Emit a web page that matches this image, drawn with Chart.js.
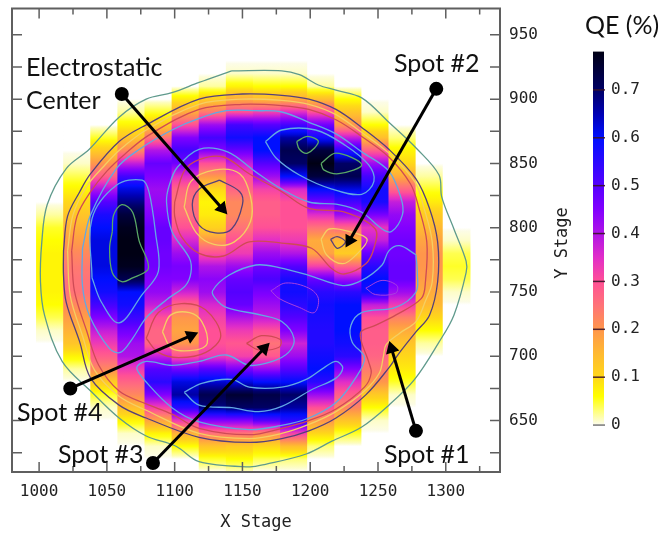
<!DOCTYPE html>
<html>
<head>
<meta charset="utf-8">
<title>QE map</title>
<script src="https://cdn.jsdelivr.net/npm/chart.js@4"></script>
<style>
  html, body { margin: 0; padding: 0; background: #fff; }
  canvas { display: block; }
</style>
</head>
<body>
<canvas id="myChart" width="660" height="534"></canvas>
<script>
// Column centres of the QE map (X stage) and the rows read along each column (Y stage)
var columnX = [1008, 1028, 1048, 1068, 1088, 1108, 1128, 1148, 1168, 1188, 1208, 1228, 1248, 1268, 1288, 1308];
var rowY = [930, 920, 910, 900, 890, 880, 870, 860, 850, 840, 830, 820, 810, 800, 790, 780, 770, 760, 750, 740, 730, 720, 710, 700, 690, 680, 670, 660, 650, 640, 630, 620, 610];

// QE values, one list per column, same order as rowY
var qe1008 = [0,0,0,0,0,0,0,0,0,0,0, 0,.02,.05,.06,.07,.07,.07,.07,.06,.04,.01, 0,0,0,0,0,0,0,0,0,0,0];
var qe1028 = [0,0,0,0,0,0,0,0, .01,.04,.07,.1,.13,.16,.19,.22,.24,.25,.25,.22,.19,.16,.13,.07,.02, 0,0,0,0,0,0,0,0];
var qe1048 = [0,0,0,0,0,0, .05,.12,.2,.28,.4,.5,.57,.6,.62,.62,.62,.6,.58,.52,.45,.38,.33,.28,.22,.12,.05,.01, 0,0,0,0,0];
var qe1068 = [0,0,0,0, .02,.07,.13,.22,.38,.52,.62,.68,.74,.77,.78,.78,.77,.72,.6,.58,.53,.47,.42,.4,.33,.27,.22,.14,.07,.01, 0,0,0];
var qe1088 = [0,0,0,0, .05,.12,.25,.4,.48,.45,.42,.43,.45,.48,.48,.47,.47,.45,.43,.38,.3,.27,.27,.38,.5,.55,.45,.32,.18,.07,.01, 0,0];
var qe1108 = [0,0,0, .08,.17,.3,.45,.52,.47,.35,.27,.25,.26,.3,.36,.42,.46,.45,.37,.27,.2,.18,.2,.3,.47,.62,.66,.55,.33,.16,.06, 0,0];
var qe1128 = [0,0, .02,.12,.24,.42,.52,.45,.3,.2,.1,.07,.08,.11,.2,.3,.4,.44,.42,.36,.32,.3,.3,.33,.5,.63,.72,.68,.45,.25,.13,.05, 0];
var qe1148 = [0, .01,.07,.17,.3,.52,.58,.48,.38,.3,.27,.22,.22,.25,.3,.33,.42,.48,.5,.48,.4,.33,.29,.32,.46,.62,.75,.7,.45,.25,.12,.06,.01];
var qe1168 = [0, .01,.06,.15,.32,.5,.6,.6,.5,.42,.32,.28,.28,.3,.35,.42,.47,.51,.46,.42,.38,.3,.25,.29,.43,.6,.73,.7,.5,.22,.1,.04, 0];
var qe1188 = [0, .01,.06,.17,.35,.52,.66,.72,.7,.6,.36,.3,.3,.3,.33,.4,.5,.57,.58,.55,.5,.45,.37,.42,.5,.6,.7,.66,.55,.32,.14,.03, 0];
var qe1208 = [0,0, .02,.14,.3,.47,.58,.74,.78,.74,.6,.47,.35,.25,.17,.18,.32,.48,.55,.58,.57,.56,.56,.58,.6,.55,.42,.3,.2,.1,.03, 0,0];
var qe1228 = [0,0,0, .06,.13,.2,.38,.55,.7,.72,.62,.52,.42,.27,.15,.12,.27,.42,.55,.6,.6,.6,.58,.55,.45,.35,.28,.22,.13,.05, 0,0,0];
var qe1248 = [0,0,0,0, .01,.06,.14,.28,.42,.52,.58,.57,.46,.34,.38,.48,.55,.6,.58,.38,.3,.28,.28,.27,.24,.2,.12,.06,.01, 0,0,0,0];
var qe1268 = [0,0,0,0,0,0, .03,.07,.1,.17,.27,.38,.43,.45,.47,.47,.48,.48,.42,.33,.23,.17,.13,.1,.08,.05,.01, 0,0,0,0,0,0];
var qe1288 = [0,0,0,0,0,0,0,0,0, .02,.05,.08,.12,.15,.18,.2,.2,.19,.17,.15,.1,.06,.02, 0,0,0,0,0,0,0,0,0,0];
var qe1308 = [0,0,0,0,0,0,0,0,0,0,0,0,0,0, .01,.04,.05,.04,.01, 0,0,0,0,0,0,0,0,0,0,0,0,0,0];
var qeColumns = [qe1008, qe1028, qe1048, qe1068, qe1088, qe1108, qe1128, qe1148, qe1168, qe1188, qe1208, qe1228, qe1248, qe1268, qe1288, qe1308];

// Contours, [x stage, y stage]
var edgeLine = [[1142,922],[1179,922],[1192,919],[1206,911],[1219,907],[1238,901],[1258,882],[1279,861],[1295,841],[1297,824],[1306,799],[1315,774],[1315,765],[1306,732],[1295,711],[1277,682],[1258,662],[1238,645],[1216,634],[1197,624],[1167,616],[1155,614],[1118,618],[1101,630],[1079,638],[1059,652],[1039,672],[1017,696],[1004,732],[1001,758],[1002,789],[1006,818],[1020,846],[1037,861],[1059,886],[1079,900],[1098,905],[1118,913]];
var ring01 = [[1018,782],[1021,809],[1030,828],[1038,842],[1059,867],[1079,880],[1118,900],[1150,904],[1179,903],[1199,900],[1219,892],[1238,878],[1258,861],[1278,838],[1288,815],[1294,789],[1294,758],[1288,732],[1278,719],[1266,703],[1258,691],[1241,670],[1219,652],[1199,642],[1179,636],[1155,633],[1118,637],[1079,652],[1059,662],[1038,683],[1030,711],[1020,742],[1018,763]];
var ring02 = [[1021,782],[1025,810],[1035,832],[1047,847],[1060,861],[1079,876],[1118,896],[1150,900],[1179,899],[1199,896],[1219,888],[1238,874],[1258,858],[1277,836],[1284,815],[1290,789],[1290,758],[1285,743],[1278,727],[1266,718],[1256,709],[1254,700],[1251,687],[1240,673],[1219,657],[1199,647],[1179,640],[1155,636],[1118,640],[1079,658],[1059,669],[1041,689],[1032,716],[1023,747]];
var ring03 = [[1024,782],[1028,809],[1038,828],[1050,844],[1063,857],[1081,872],[1118,892],[1150,896],[1179,895],[1199,892],[1219,884],[1238,871],[1258,855],[1274,834],[1280,816],[1286,789],[1285,758],[1282,745],[1263,732],[1248,724],[1237,718],[1243,696],[1245,687],[1240,676],[1219,659],[1199,650],[1179,644],[1155,639],[1118,644],[1098,655],[1079,663],[1059,673],[1044,693],[1035,720],[1026,751]];
var upperBlue = [[1032,784],[1038,810],[1057,846],[1074,861],[1098,876],[1118,885],[1138,891],[1160,891],[1179,890],[1199,882],[1219,873],[1238,859],[1258,844],[1267,823],[1268,810],[1260,797],[1253,799],[1238,812],[1221,818],[1199,820],[1179,830],[1159,844],[1139,859],[1118,861],[1102,847],[1096,833],[1094,820],[1098,797],[1111,776],[1112,765],[1108,755],[1094,744],[1079,730],[1069,714],[1060,703],[1052,706],[1037,732],[1032,755]];
var lowerBlue = [[1278,779],[1279,765],[1278,750],[1263,738],[1238,734],[1230,724],[1231,711],[1240,699],[1234,684],[1219,664],[1199,652],[1178,646],[1155,643],[1118,649],[1098,660],[1079,680],[1072,691],[1079,696],[1098,693],[1118,696],[1138,701],[1155,693],[1172,696],[1184,703],[1188,714],[1179,727],[1164,732],[1138,738],[1130,745],[1128,751],[1140,763],[1160,771],[1177,769],[1199,763],[1224,755],[1238,759],[1253,771],[1258,782],[1266,786]];
var leftBlue = [[1039,761],[1039,807],[1057,833],[1076,837],[1081,828],[1086,795],[1088,766],[1076,748],[1059,726],[1046,742]];
var topBlue = [[1167,867],[1179,876],[1204,876],[1226,864],[1243,849],[1247,836],[1238,826],[1216,830],[1192,841],[1175,854]];
var bottomBlue = [[1107,672],[1120,679],[1142,682],[1155,676],[1179,676],[1197,682],[1210,691],[1219,696],[1224,691],[1219,683],[1201,674],[1179,661],[1162,657],[1142,660],[1118,662]];
var midViolet = [[1171,751],[1182,757],[1199,753],[1206,745],[1203,734],[1192,738],[1177,745]];
var rightViolet = [[1241,753],[1253,759],[1264,755],[1263,749],[1248,748]];
var leftPeak = [[1054,797],[1055,810],[1061,818],[1069,812],[1074,789],[1080,774],[1080,767],[1069,761],[1061,758],[1054,765],[1052,784]];
var topPeakA = [[1190,867],[1198,871],[1206,867],[1198,858],[1192,861]];
var topPeakB = [[1208,850],[1219,858],[1238,849],[1221,842],[1210,845]];
var centerDark = [[1133,837],[1148,828],[1150,818],[1142,799],[1130,796],[1118,802],[1113,818],[1118,830]];
var centerYellow = [[1107,816],[1112,836],[1130,845],[1148,842],[1156,824],[1156,805],[1144,789],[1129,787],[1116,796]];
var centerRed = [[1100,820],[1107,844],[1118,853],[1136,855],[1155,842],[1179,828],[1199,815],[1226,812],[1248,799],[1247,784],[1241,772],[1225,764],[1216,768],[1201,784],[1179,788],[1155,789],[1136,778],[1118,780],[1105,793],[1100,809]];
var spot2Dark = [[1215,791],[1220,793],[1226,789],[1220,784]];
var spot2Yellow = [[1208,791],[1214,799],[1229,797],[1242,791],[1234,779],[1224,772],[1212,779]];
var spot3Red = [[1153,710],[1164,716],[1178,713],[1177,707],[1162,705]];
var spot4Yellow = [[1091,719],[1097,732],[1111,734],[1120,727],[1124,710],[1116,705],[1098,706]];
var spot4Red = [[1079,714],[1088,734],[1105,741],[1123,736],[1134,716],[1123,703],[1103,699],[1088,703]];

// Callout arrows, from the dot to the tip
var arrowCenter = [[1061,904],[1135,815]];
var arrowSpot2 = [[1293,908],[1229,790]];
var arrowSpot4 = [[1023,675],[1112,716]];
var arrowSpot3 = [[1084,617],[1166,706]];
var arrowSpot1 = [[1278,642],[1260,706]];

var xTickValues = [1000, 1050, 1100, 1150, 1200, 1250, 1300];
var yTickValues = [650, 700, 750, 800, 850, 900, 950];
var qeTicks = [0, 0.1, 0.2, 0.3, 0.4, 0.5, 0.6, 0.7];

// colour map of the QE bar
var qeStops = [
    [0, 252, 252, 240], [0.03, 255, 255, 120], [0.06, 255, 255, 0], [0.1, 255, 215, 25],
    [0.15, 255, 185, 50], [0.2, 255, 150, 75], [0.25, 255, 115, 120], [0.3, 255, 80, 150],
    [0.35, 225, 45, 200], [0.4, 175, 20, 230], [0.45, 130, 0, 255], [0.5, 85, 0, 255],
    [0.6, 0, 15, 255], [0.65, 0, 0, 180], [0.7, 0, 0, 100], [0.78, 0, 0, 20]
];
function qeColor(v) {
    if (v <= 0) return 'rgb(255,255,255)';
    for (var i = 1; i < qeStops.length; i++) {
        if (v <= qeStops[i][0]) {
            var a = qeStops[i - 1], b = qeStops[i], t = (v - a[0]) / (b[0] - a[0]);
            return 'rgb(' + Math.round(a[1] + (b[1] - a[1]) * t) + ',' + Math.round(a[2] + (b[2] - a[2]) * t) + ',' + Math.round(a[3] + (b[3] - a[3]) * t) + ')';
        }
    }
    return 'rgb(0,0,15)';
}

function columnGradient(context) {
    var chart = context.chart;
    if (!chart.chartArea || context.dataIndex === undefined) return '#fff';
    var y = chart.scales.y, vals = qeColumns[context.dataIndex];
    var top = y.getPixelForValue(rowY[0]), bottom = y.getPixelForValue(rowY[rowY.length - 1]);
    var g = chart.ctx.createLinearGradient(0, top, 0, bottom);
    var n = rowY.length - 1;
    for (var i = 0; i < n; i++) {
        for (var k = 0; k < 4; k++) {
            g.addColorStop((i + k / 4) / n, qeColor(vals[i] + (vals[i + 1] - vals[i]) * k / 4));
        }
    }
    g.addColorStop(1, qeColor(vals[n]));
    return g;
}

function toPoints(list, closed) {
    var pts = list.map(function (p) { return { x: p[0], y: p[1] }; });
    if (closed) pts.push(pts[0]);
    return pts;
}
function contour(list, color, width) {
    return {
        type: 'scatter', data: toPoints(list, true), showLine: true, borderColor: color,
        borderWidth: width || 1.3, tension: 0.35, pointRadius: 0, order: 2
    };
}
function arrow(list) {
    return {
        type: 'scatter', data: toPoints(list, false), showLine: true, borderColor: '#000', borderWidth: 3,
        backgroundColor: '#000', pointBackgroundColor: '#000', pointBorderColor: '#000',
        pointStyle: ['circle', 'triangle'], pointRadius: [5.5, 5], order: 1,
        pointRotation: function (ctx) {
            var c = ctx.chart;
            var dx = c.scales.x.getPixelForValue(list[1][0]) - c.scales.x.getPixelForValue(list[0][0]);
            var dy = c.scales.y.getPixelForValue(list[1][1]) - c.scales.y.getPixelForValue(list[0][1]);
            return Math.atan2(dx, -dy) * 180 / Math.PI;
        }
    };
}

var monoFont = '"DejaVu Sans Mono", monospace';
var frameColor = '#5f5f5f';
var tealLine = '#5f9a8c', darkLine = '#55407a', yellowLine = '#f5cf62', redLine = '#cf4a55', blueLine = '#62a8e4', greenLine = '#5aa866';

// frame, inward ticks, colour bar and text labels
var decorations = {
    id: 'decorations',
    afterDraw: function (chart) {
        var ctx = chart.ctx, a = chart.chartArea, x = chart.scales.x, y = chart.scales.y, q = chart.scales.qe;
        ctx.save();
        ctx.strokeStyle = frameColor;
        ctx.lineWidth = 1.5;
        ctx.beginPath();
        var v, p, len;
        for (v = 1000; v <= 1325; v += 25) {
            p = x.getPixelForValue(v);
            len = v % 50 === 0 ? 10 : 6;
            ctx.moveTo(p, a.top); ctx.lineTo(p, a.top + len);
            ctx.moveTo(p, a.bottom); ctx.lineTo(p, a.bottom - len);
        }
        for (v = 625; v <= 950; v += 25) {
            p = y.getPixelForValue(v);
            ctx.moveTo(a.left, p); ctx.lineTo(a.left + 10, p);
            ctx.moveTo(a.right, p); ctx.lineTo(a.right - 10, p);
        }
        ctx.stroke();
        ctx.lineWidth = 2;
        ctx.strokeRect(a.left, a.top, a.right - a.left, a.bottom - a.top);

        // colour bar
        var barLeft = 593, barWidth = 11;
        var barTop = q.getPixelForValue(0.78), barBottom = q.getPixelForValue(0);
        var g = ctx.createLinearGradient(0, barBottom, 0, barTop);
        qeStops.forEach(function (s) {
            g.addColorStop(s[0] / 0.78, qeColor(s[0] === 0 ? 0.0001 : s[0]));
        });
        ctx.fillStyle = g;
        ctx.fillRect(barLeft, barTop, barWidth, barBottom - barTop);
        ctx.textAlign = 'left';
        ctx.textBaseline = 'middle';
        ctx.font = '16px ' + monoFont;
        qeTicks.forEach(function (t) {
            p = q.getPixelForValue(t);
            ctx.strokeStyle = t === 0 ? '#777' : 'rgba(60,20,40,0.9)';
            ctx.lineWidth = 1.5;
            ctx.beginPath();
            ctx.moveTo(barLeft, p); ctx.lineTo(barLeft + barWidth + 1, p);
            ctx.stroke();
            ctx.fillStyle = '#222';
            ctx.fillText(t === 0 ? '0' : t.toFixed(1), 611, p);
        });

        // axis title on the right reads upwards
        ctx.save();
        ctx.translate(563, 243);
        ctx.rotate(-Math.PI / 2);
        ctx.textAlign = 'center';
        ctx.font = '17px ' + monoFont;
        ctx.fillStyle = '#222';
        ctx.fillText('Y Stage', 0, 0);
        ctx.restore();

        ctx.fillStyle = '#111';
        ctx.font = '25px Lato';
        ctx.fillText('QE (%)', 585, 26);
        ctx.fillText('Electrostatic', 26, 68);
        ctx.fillText('Center', 26, 101);
        ctx.fillText('Spot #2', 394, 64);
        ctx.fillText('Spot #4', 17, 413);
        ctx.fillText('Spot #3', 58, 455);
        ctx.fillText('Spot #1', 384, 455);
        ctx.restore();
    }
};

var ctx1 = document.getElementById('myChart').getContext('2d');
var myChart = new Chart(ctx1, {
    type: 'scatter',
    data: {
        datasets: [
            {
                type: 'bar',
                data: columnX.map(function (cx) { return { x: cx, y: [rowY[rowY.length - 1], rowY[0]] }; }),
                backgroundColor: columnGradient,
                borderWidth: 0,
                barPercentage: 1,
                categoryPercentage: 1,
                order: 3
            },
            contour(edgeLine, tealLine),
            contour(ring01, darkLine),
            contour(ring02, yellowLine),
            contour(ring03, redLine),
            contour(upperBlue, blueLine),
            contour(lowerBlue, blueLine),
            contour(leftBlue, blueLine),
            contour(topBlue, blueLine),
            contour(bottomBlue, blueLine),
            contour(midViolet, '#a83fe0', 1),
            contour(rightViolet, '#a83fe0', 1),
            contour(leftPeak, greenLine),
            contour(topPeakA, greenLine),
            contour(topPeakB, greenLine),
            contour(centerDark, darkLine),
            contour(centerYellow, yellowLine),
            contour(centerRed, redLine),
            contour(spot2Dark, darkLine),
            contour(spot2Yellow, yellowLine),
            contour(spot3Red, redLine),
            contour(spot4Yellow, yellowLine),
            contour(spot4Red, redLine),
            arrow(arrowCenter),
            arrow(arrowSpot2),
            arrow(arrowSpot4),
            arrow(arrowSpot3),
            arrow(arrowSpot1)
        ]
    },
    options: {
        responsive: false,
        animation: false,
        layout: { padding: { left: 12, top: 7.5, right: 0, bottom: 0 } },
        plugins: { legend: { display: false }, tooltip: { enabled: false } },
        scales: {
            x: {
                type: 'linear', min: 980, max: 1340, offset: false,
                grid: { display: false, drawTicks: false }, border: { display: false },
                afterFit: function (s) { s.height = 62; s.paddingLeft = 0; s.paddingRight = 0; },
                afterBuildTicks: function (s) { s.ticks = xTickValues.map(function (v) { return { value: v }; }); },
                ticks: {
                    padding: 10, color: '#222', font: { family: monoFont, size: 16 }, maxRotation: 0, autoSkip: false,
                    callback: function (v) { return String(v); }
                },
                title: { display: true, text: 'X Stage', color: '#222', font: { family: monoFont, size: 17 }, padding: { top: 8, bottom: 1 } }
            },
            y: {
                type: 'linear', position: 'right', min: 610, max: 970.5,
                grid: { display: false, drawTicks: false }, border: { display: false },
                afterFit: function (s) { s.width = 160; s.paddingTop = 0; s.paddingBottom = 0; },
                afterBuildTicks: function (s) { s.ticks = yTickValues.map(function (v) { return { value: v }; }); },
                ticks: {
                    padding: 9, color: '#222', font: { family: monoFont, size: 16 }, autoSkip: false,
                    callback: function (v) { return String(v); }
                }
            },
            qe: { type: 'linear', axis: 'y', position: 'right', display: false, min: -0.098, max: 0.87 }
        }
    },
    plugins: [decorations]
});
</script>
</body>
</html>
